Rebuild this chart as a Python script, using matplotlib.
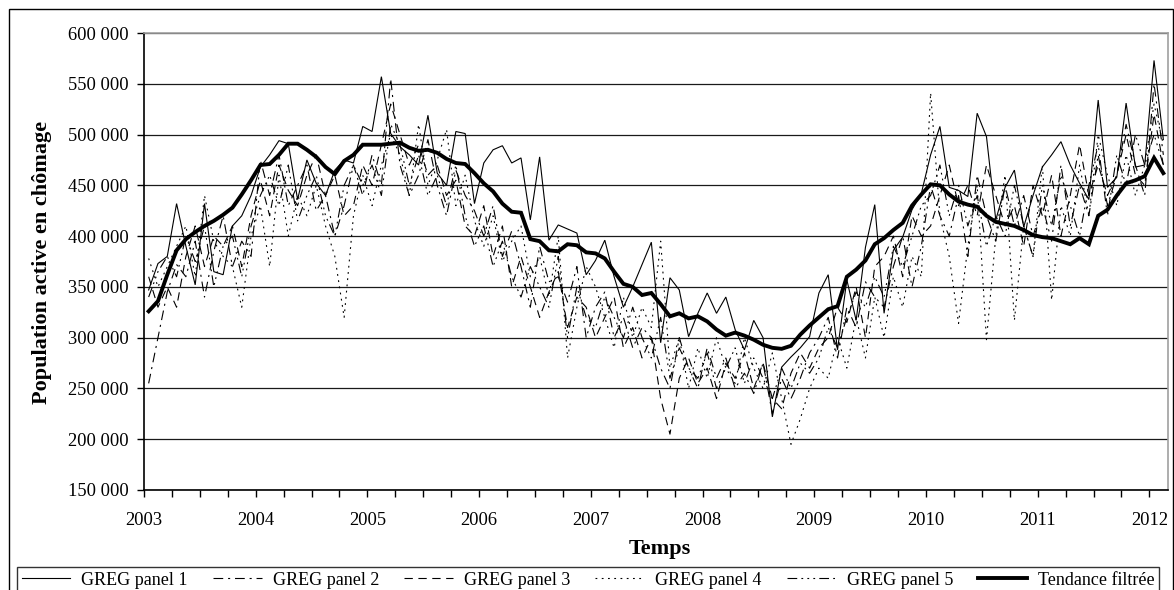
import matplotlib
matplotlib.use("Agg")
import matplotlib.pyplot as plt
import numpy as np
from matplotlib.patches import Rectangle
from matplotlib.ticker import FuncFormatter, FixedLocator

plt.rcParams['font.family'] = ['Liberation Serif', 'DejaVu Serif']
plt.rcParams['lines.scale_dashes'] = False

# Monthly series, January 2003 to February 2012 (values in thousands)
start_year = 2003

greg_panel_1 = [347, 373, 380, 432, 390, 352, 432, 365, 362, 410, 420, 440,
                468, 480, 494, 491, 436, 475, 452, 440, 465, 475, 472, 508,
                503, 557, 501, 488, 480, 470, 519, 462, 450, 503, 501, 432,
                472, 485, 489, 472, 477, 416, 478, 396, 411, 407, 403, 362,
                376, 396, 360, 330, 350, 372, 394, 295, 359, 347, 301, 324,
                344, 324, 340, 308, 288, 317, 300, 222, 271, 281, 290, 301,
                344, 362, 288, 357, 317, 389, 431, 324, 386, 399, 426, 442,
                480, 508, 448, 445, 439, 521, 498, 416, 448, 465, 409, 440,
                468, 480, 493, 470, 452, 436, 534, 448, 458, 531, 468, 470,
                573, 495]

greg_panel_2 = [255, 300, 345, 372, 360, 395, 340, 385, 420, 370, 395, 380,
                475, 440, 480, 430, 450, 470, 425, 440, 400, 430, 470, 440,
                480, 450, 555, 470, 440, 460, 495, 450, 420, 465, 440, 425,
                400, 430, 380, 405, 370, 330, 390, 355, 360, 335, 370, 300,
                330, 345, 300, 320, 290, 310, 300, 270, 250, 300, 270, 250,
                290, 260, 280, 250, 265, 245, 275, 225, 260, 240, 260, 285,
                300, 320, 280, 330, 310, 355, 340, 330, 370, 400, 350, 390,
                450, 420, 400, 440, 380, 460, 420, 395, 450, 410, 440, 400,
                430, 395, 470, 410, 450, 420, 480, 430, 460, 510, 470, 440,
                550, 480]

greg_panel_3 = [360, 330, 350, 330, 380, 410, 370, 400, 390, 410, 370, 420,
                455, 420, 470, 445, 430, 460, 480, 440, 460, 420, 430, 470,
                450, 490, 530, 500, 470, 490, 460, 470, 440, 455, 410, 400,
                430, 380, 410, 350, 380, 350, 320, 345, 365, 310, 340, 330,
                300, 320, 340, 290, 310, 280, 300, 240, 205, 260, 280, 255,
                270, 240, 275, 260, 285, 250, 275, 240, 230, 265, 285, 270,
                290, 300, 330, 315, 350, 300, 370, 380, 400, 360, 420, 400,
                410, 440, 470, 430, 450, 420, 470, 440, 410, 430, 390, 450,
                420, 460, 400, 440, 490, 440, 470, 440, 460, 500, 460, 450,
                520, 470]

greg_panel_4 = [378, 350, 370, 390, 410, 360, 440, 395, 380, 370, 330, 400,
                430, 370, 460, 400, 440, 420, 450, 410, 380, 320, 420, 460,
                430, 470, 500, 480, 440, 510, 450, 475, 505, 430, 460, 415,
                390, 420, 375, 395, 410, 360, 380, 340, 400, 280, 330, 370,
                350, 320, 290, 340, 300, 330, 310, 395, 270, 300, 250, 290,
                260, 300, 270, 255, 300, 270, 250, 285, 240, 195, 220, 250,
                270, 260, 300, 270, 320, 280, 340, 300, 360, 330, 380, 360,
                541, 420, 380, 314, 390, 450, 298, 400, 460, 317, 410, 380,
                470, 337, 430, 400, 470, 420, 500, 460, 430, 480, 440, 470,
                530, 490]

greg_panel_5 = [340, 365, 380, 360, 400, 375, 410, 350, 390, 400, 360, 410,
                440, 460, 430, 470, 415, 440, 460, 420, 400, 450, 470, 450,
                470, 440, 510, 490, 450, 480, 440, 460, 430, 470, 420, 390,
                410, 370, 395, 360, 340, 370, 350, 330, 380, 300, 350, 320,
                310, 340, 320, 300, 330, 300, 280, 320, 260, 290, 270, 260,
                285, 250, 270, 290, 255, 280, 260, 240, 270, 250, 275, 265,
                280, 310, 290, 320, 345, 330, 360, 340, 390, 370, 400, 430,
                440, 470, 420, 450, 410, 440, 390, 420, 400, 450, 410, 380,
                450, 410, 460, 430, 400, 450, 490, 420, 480, 450, 500, 470,
                500, 470]

tendance_filtree = [326, 336, 362, 386, 397, 404, 410, 415, 421, 428, 441, 455,
                    470, 471, 480, 491, 491, 485, 478, 468, 461, 474, 480, 490,
                    490, 490, 491, 492, 487, 484, 485, 482, 476, 472, 471, 462,
                    452, 444, 432, 424, 423, 397, 395, 386, 385, 392, 391, 384,
                    383, 378, 365, 353, 350, 342, 344, 333, 321, 324, 319, 321,
                    316, 308, 302, 305, 302, 298, 293, 290, 289, 292, 303, 312,
                    320, 328, 331, 360, 367, 376, 392, 398, 406, 413, 430, 441,
                    451, 450, 441, 434, 431, 429, 420, 414, 412, 410, 406, 401,
                    399, 398, 395, 392, 398, 392, 420, 426, 440, 452, 455, 459,
                    477, 462]

labels = ["GREG panel 1", "GREG panel 2", "GREG panel 3", "GREG panel 4",
          "GREG panel 5", "Tendance filtrée"]

n = len(tendance_filtree)
t = start_year + (np.arange(n) + 0.5) / 12.0

W, H = 1174, 590
fig = plt.figure(figsize=(W / 100, H / 100), dpi=100)
ax = fig.add_axes([144 / W, 1 - 490 / H, (1168 - 144) / W, (490 - 33) / H])

thin = 0.8
styles = [
    dict(linestyle='-', lw=thin),
    dict(linestyle=(0, (7, 3.5, 1.5, 3.5)), lw=thin),
    dict(linestyle=(0, (6, 4)), lw=thin),
    dict(linestyle=(0, (1.3, 3.2)), lw=thin),
    dict(linestyle=(0, (7, 3, 1.3, 3, 1.3, 3, 1.3, 3)), lw=thin),
    dict(linestyle='-', lw=2.8),
]
series = [greg_panel_1, greg_panel_2, greg_panel_3, greg_panel_4, greg_panel_5,
          tendance_filtree]

handles = []
for s, st, lab in zip(series, styles, labels):
    ln, = ax.plot(t, np.array(s) * 1000, color='black', label=lab,
                  solid_joinstyle='miter', **st)
    handles.append(ln)

ax.set_xlim(start_year, 2012 + 2 / 12)
ax.set_ylim(150000, 600000)
ax.set_yticks(np.arange(150000, 600001, 50000))
ax.yaxis.set_major_formatter(FuncFormatter(lambda v, p: f"{int(v):,}".replace(",", " ")))

quarters = np.arange(start_year, 2012 + 2 / 12, 0.25)
ax.xaxis.set_major_locator(FixedLocator(quarters))
ax.set_xticklabels([str(int(round(q))) if abs(q - round(q)) < 1e-6 else '' for q in quarters])

ax.tick_params(axis='both', labelsize=13.3, direction='out', length=5, width=1, color='black')
ax.tick_params(axis='x', pad=11)
ax.tick_params(axis='y', pad=6)

ax.yaxis.grid(True, color='#1a1a1a', lw=0.9)
ax.set_axisbelow(True)
for sp in ['left', 'bottom']:
    ax.spines[sp].set_color('black')
    ax.spines[sp].set_linewidth(1.2)
for sp in ['top', 'right']:
    ax.spines[sp].set_color('#a0a0a0')
    ax.spines[sp].set_linewidth(1.2)

fig.text(660 / W, 1 - 549 / H, "Temps", fontsize=16, fontweight='bold',
         ha='center', va='center')
fig.text(42 / W, 1 - 262 / H, "Population active en chômage", fontsize=16,
         fontweight='bold', rotation=90, ha='center', va='center')

# outer border
fig.patches.append(Rectangle((9 / W, -0.05), (1173 - 9) / W, 1.05 - 9 / H,
                             transform=fig.transFigure, fill=False,
                             edgecolor='black', lw=1.0))

leg = fig.legend(handles, labels, loc='upper left',
                 bbox_to_anchor=(17 / W, 1 - 567 / H), ncol=6, fontsize=13,
                 frameon=True, fancybox=False, edgecolor='black',
                 borderpad=0.25, borderaxespad=0, handlelength=2.7,
                 handletextpad=0.62, columnspacing=1.38)
leg.get_frame().set_linewidth(1.0)

fig.savefig("out.png", dpi=100)
